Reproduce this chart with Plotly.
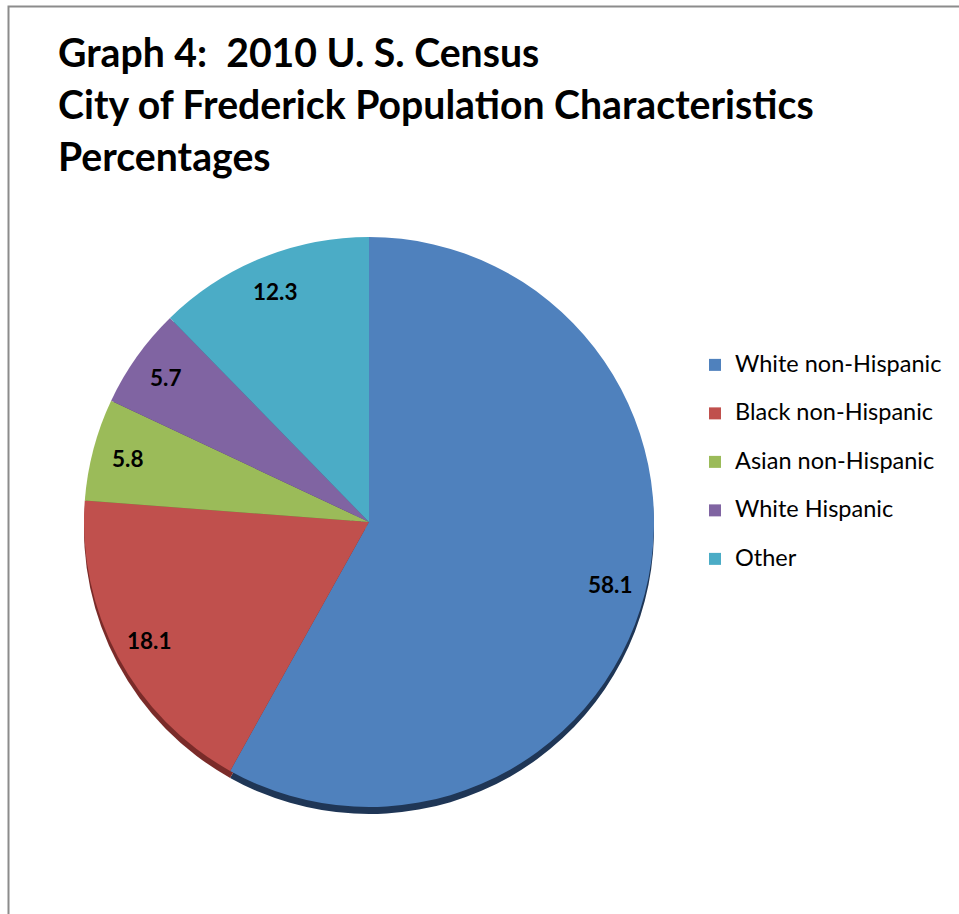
import math
import plotly.graph_objects as go

categories = ["White non-Hispanic", "Black non-Hispanic", "Asian non-Hispanic", "White Hispanic", "Other"]
values = [58.1, 18.1, 5.8, 5.7, 12.3]
colors = ["#4F81BD", "#C0504D", "#9BBB59", "#8064A2", "#4BACC6"]
shadow_colors = ["#1F3656", "#7A2B29", "#5C7434", "#4A3861", "#2A6C7E"]
title_lines = ["Graph 4:  2010 U. S. Census",
               "City of Frederick Population Characteristics",
               "Percentages"]

W, H = 959, 914
cx, cy, R = 369, 522, 285
label_r = 0.875 * R

fig = go.Figure()

# shadow (3D edge)
fig.add_trace(go.Pie(
    labels=categories, values=values, sort=False, direction="clockwise", rotation=0,
    marker=dict(colors=shadow_colors, line=dict(width=0)),
    textinfo="none", hoverinfo="skip", showlegend=False,
    domain=dict(x=[(cx - R) / W, (cx + R) / W],
                y=[1 - (cy + R + 7) / H, 1 - (cy - R + 7) / H]),
))

legend_labels = [f"<span style='font-size:23.5px'>{c}</span><br> " for c in categories]

fig.add_trace(go.Pie(
    labels=legend_labels, values=values, sort=False, direction="clockwise", rotation=0,
    marker=dict(colors=colors, line=dict(width=0)),
    textinfo="none",
    hovertemplate="%{value}<extra></extra>",
    domain=dict(x=[(cx - R) / W, (cx + R) / W],
                y=[1 - (cy + R) / H, 1 - (cy - R) / H]),
))

annotations = []
# data labels at mid-angle of each slice
total = sum(values)
cum = 0.0
for v in values:
    mid = (cum + v / 2) / total * 2 * math.pi
    cum += v
    px = cx + label_r * math.sin(mid)
    py = cy - label_r * math.cos(mid)
    annotations.append(dict(
        text=f"<b>{v:.1f}</b>", x=px / W, y=1 - py / H,
        xref="paper", yref="paper", xanchor="center", yanchor="middle",
        showarrow=False, font=dict(family="Lato", size=22.5, color="black"),
    ))

for i, line in enumerate(title_lines):
    annotations.append(dict(
        text=f"<b>{line}</b>", x=56 / W, y=1 - (68 + 52 * i) / H,
        xref="paper", yref="paper", xanchor="left", yanchor="bottom",
        showarrow=False, font=dict(family="Lato", size=39.2, color="black"),
        yshift=-9,
    ))

fig.update_layout(
    width=W, height=H,
    margin=dict(l=0, r=0, t=0, b=0),
    paper_bgcolor="white",
    annotations=annotations,
    legend=dict(x=695 / W, y=1 - 347 / H, xanchor="left", yanchor="top",
                font=dict(family="Lato", size=17.5, color="black"),
                valign="top", bgcolor="rgba(0,0,0,0)"),
    shapes=[dict(type="rect", xref="paper", yref="paper",
                 x0=8.5 / W, x1=1.05, y0=-0.05, y1=1 - 6.5 / H,
                 line=dict(color="#8C8C8C", width=2), layer="below")],
)

fig.write_html("out.html")
